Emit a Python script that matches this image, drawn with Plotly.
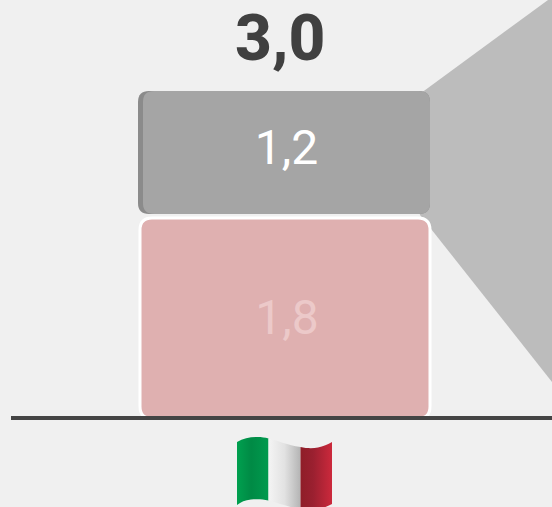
import base64
import plotly.graph_objects as go

W, H = 552, 507
BG = "#f0f0f0"
country = ["Italia"]
lower_values = [1.8]
upper_values = [1.2]
total_label = "3,0"

FLAG_SVG = """<svg xmlns='http://www.w3.org/2000/svg' width='95' height='70' viewBox='0 0 95 70'>
<defs>
<linearGradient id='g'><stop offset='0' stop-color='#00a04f'/><stop offset='.45' stop-color='#008a45'/><stop offset='1' stop-color='#009a4e'/></linearGradient>
<linearGradient id='w'><stop offset='0' stop-color='#f4f4f4'/><stop offset='.5' stop-color='#e2e2e2'/><stop offset='1' stop-color='#b4b4b4'/></linearGradient>
<linearGradient id='r'><stop offset='0' stop-color='#8f1d28'/><stop offset='.4' stop-color='#9a2030'/><stop offset='1' stop-color='#cc293c'/></linearGradient>
</defs>
<path d='M0 5 C6 1.5 13 0 20 0 C25 0 28 .5 31.5 1.5 L31.5 63.5 C25 62 20 62 14 62.5 C8 63 4 65 0 68Z' fill='url(#g)'/>
<path d='M31.5 1.5 C42 4 50 8 63.5 10 L63.5 72 C50 70 42 66 31.5 63.5Z' fill='url(#w)'/>
<path d='M63.5 10 C70 11.5 76 11.5 81 10.5 C86 9.5 91 7.5 95 5 L95 67 C88 71 78 74 63.5 72Z' fill='url(#r)'/>
</svg>"""
flag_uri = "data:image/svg+xml;base64," + base64.b64encode(FLAG_SVG.encode()).decode()

UNIT = 292.0           # px per x unit
S1 = 199.0 / 1.8       # px per value, lower block
S2 = 123.0 / 1.2       # px per value, upper block
Y0_1, Y0_2 = 417.0, 214.0
x_range = [-(285 - 11) / UNIT, (552 - 285) / UNIT]


def rounded(x0, x1, y0, y1, r, sy):
    rx, ry = r / UNIT, r / sy
    return (f"M {x0 + rx} {y0} L {x1 - rx} {y0} Q {x1} {y0} {x1} {y0 + ry} L {x1} {y1 - ry} "
            f"Q {x1} {y1} {x1 - rx} {y1} L {x0 + rx} {y1} Q {x0} {y1} {x0} {y1 - ry} "
            f"L {x0} {y0 + ry} Q {x0} {y0} {x0 + rx} {y0} Z")


fig = go.Figure()
fig.add_bar(x=[0], y=upper_values, base=[5 / S2], yaxis="y2", width=287 / UNIT, offset=-142 / UNIT,
            marker=dict(color="rgba(0,0,0,0)", line_width=0),
            texttemplate="%{y:.1f}", textposition="inside", insidetextanchor="middle", textangle=0,
            textfont=dict(family="Roboto", size=48, color="#ffffff"), hoverinfo="skip")
fig.add_bar(x=[0], y=lower_values, yaxis="y", width=290 / UNIT, offset=-143 / UNIT,
            marker=dict(color="rgba(0,0,0,0)", line_width=0),
            texttemplate="%{y:.1f}", textposition="inside", insidetextanchor="middle", textangle=0,
            textfont=dict(family="Roboto", size=48, color="#ecc9c9"), hoverinfo="skip")

fig.add_shape(type="path", xref="paper", yref="paper", layer="below", line_width=0, fillcolor="#bcbcbc",
              path=f"M {400/W} {1-(91+17.5)/H} L {548/W} 1 L 1 1 L 1 {1-382/H} L {420/W} {1-215/H} Z")
up, lo = upper_values[0], lower_values[0]
fig.add_shape(type="path", xref="x", yref="y2", layer="below", line_width=0, fillcolor="#8b8b8b",
              path=rounded(-147 / UNIT, 145 / UNIT, 0, up, 11, S2))
fig.add_shape(type="path", xref="x", yref="y2", layer="below", line_width=0, fillcolor="#a5a5a5",
              path=rounded(-142 / UNIT, 145 / UNIT, 0, up, 11, S2))
fig.add_shape(type="path", xref="x", yref="y", layer="below", fillcolor="#dfb0b0",
              line=dict(color="#ffffff", width=3),
              path=rounded(-145 / UNIT, 145 / UNIT, -1.5 / S1, lo, 12, S1))

fig.add_annotation(x=0, y=1.0, xref="x", yref="paper", yanchor="top", text=total_label, showarrow=False,
                   font=dict(family="Roboto", size=64, weight=800, color="#404040"),
                   xshift=-5, yshift=0, borderpad=0, height=74, valign="top")
fig.add_layout_image(source=flag_uri, xref="paper", yref="paper", x=237/W, y=1-437/H,
                     sizex=95/W, sizey=70/H, xanchor="left", yanchor="top", sizing="stretch", layer="above")

fig.update_layout(
    width=W, height=H, margin=dict(l=0, r=0, t=0, b=0),
    paper_bgcolor=BG, plot_bgcolor="rgba(0,0,0,0)", barmode="overlay", showlegend=False, separators=",.",
    xaxis=dict(domain=[11/W, 1], range=x_range, showline=True, linecolor="#444444", linewidth=4,
               anchor="free", position=(H-418)/H, showgrid=False, zeroline=False,
               showticklabels=False, ticks="", fixedrange=True),
    yaxis=dict(domain=[0, 1], range=[-(H - Y0_1) / S1, Y0_1 / S1], visible=False, fixedrange=True),
    yaxis2=dict(domain=[0, 1], range=[-(H - Y0_2) / S2, Y0_2 / S2], visible=False, overlaying="y",
                anchor="x", fixedrange=True),
)
fig.write_html("out.html", config={"displayModeBar": False},
               post_script="document.body.style.margin='0';document.body.style.overflow='hidden';document.body.style.background='#f0f0f0';")
